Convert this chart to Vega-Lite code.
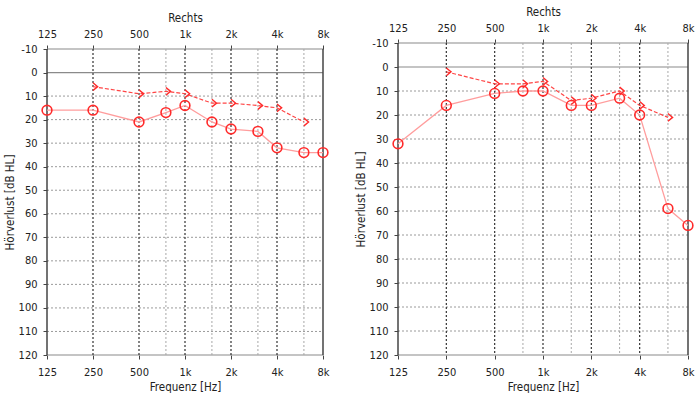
{
  "$schema": "https://vega.github.io/schema/vega-lite/v6.json",
  "background": "white",
  "padding": {"left": 4, "top": 6, "right": 0, "bottom": 0},
  "spacing": 23,
  "config": {
    "font": "DejaVu Sans Condensed, Liberation Sans",
    "view": {"stroke": null},
    "axis": {"labelFont": "DejaVu Sans Condensed, Liberation Sans", "titleFont": "DejaVu Sans Condensed, Liberation Sans", "labelFontSize": 11, "titleFontSize": 11.5, "titleFontWeight": "normal", "labelColor": "#222", "titleColor": "#222", "grid": false, "domain": false, "tickColor": "#444", "tickSize": 4, "labelOverlap": false, "labelSeparation": 0},
    "axisY": {"labelOverlap": false},
    "axisLeft": {"labelOverlap": false},
    "axisQuantitative": {"labelOverlap": false}
  },
  "datasets": {
    "levels": [{"db": -10}, {"db": 0}, {"db": 10}, {"db": 20}, {"db": 30}, {"db": 40}, {"db": 50}, {"db": 60}, {"db": 70}, {"db": 80}, {"db": 90}, {"db": 100}, {"db": 110}, {"db": 120}],
    "freqs": [{"f": 125}, {"f": 250}, {"f": 500}, {"f": 750}, {"f": 1000}, {"f": 1500}, {"f": 2000}, {"f": 3000}, {"f": 4000}, {"f": 6000}, {"f": 8000}],
    "hearing": [
      {"panel": "L", "test": "air", "f": 125, "db": 16},
      {"panel": "L", "test": "air", "f": 250, "db": 16},
      {"panel": "L", "test": "air", "f": 500, "db": 21},
      {"panel": "L", "test": "air", "f": 750, "db": 17},
      {"panel": "L", "test": "air", "f": 1000, "db": 14},
      {"panel": "L", "test": "air", "f": 1500, "db": 21},
      {"panel": "L", "test": "air", "f": 2000, "db": 24},
      {"panel": "L", "test": "air", "f": 3000, "db": 25},
      {"panel": "L", "test": "air", "f": 4000, "db": 32},
      {"panel": "L", "test": "air", "f": 6000, "db": 34},
      {"panel": "L", "test": "air", "f": 8000, "db": 34},
      {"panel": "L", "test": "bone", "f": 250, "db": 6},
      {"panel": "L", "test": "bone", "f": 500, "db": 9},
      {"panel": "L", "test": "bone", "f": 750, "db": 8},
      {"panel": "L", "test": "bone", "f": 1000, "db": 9},
      {"panel": "L", "test": "bone", "f": 1500, "db": 13},
      {"panel": "L", "test": "bone", "f": 2000, "db": 13},
      {"panel": "L", "test": "bone", "f": 3000, "db": 14},
      {"panel": "L", "test": "bone", "f": 4000, "db": 15},
      {"panel": "L", "test": "bone", "f": 6000, "db": 21},
      {"panel": "R", "test": "air", "f": 125, "db": 32},
      {"panel": "R", "test": "air", "f": 250, "db": 16},
      {"panel": "R", "test": "air", "f": 500, "db": 11},
      {"panel": "R", "test": "air", "f": 750, "db": 10},
      {"panel": "R", "test": "air", "f": 1000, "db": 10},
      {"panel": "R", "test": "air", "f": 1500, "db": 16},
      {"panel": "R", "test": "air", "f": 2000, "db": 16},
      {"panel": "R", "test": "air", "f": 3000, "db": 13},
      {"panel": "R", "test": "air", "f": 4000, "db": 20},
      {"panel": "R", "test": "air", "f": 6000, "db": 59},
      {"panel": "R", "test": "air", "f": 8000, "db": 66},
      {"panel": "R", "test": "bone", "f": 250, "db": 2},
      {"panel": "R", "test": "bone", "f": 500, "db": 7},
      {"panel": "R", "test": "bone", "f": 750, "db": 7},
      {"panel": "R", "test": "bone", "f": 1000, "db": 6},
      {"panel": "R", "test": "bone", "f": 1500, "db": 14},
      {"panel": "R", "test": "bone", "f": 2000, "db": 13},
      {"panel": "R", "test": "bone", "f": 3000, "db": 10},
      {"panel": "R", "test": "bone", "f": 4000, "db": 16},
      {"panel": "R", "test": "bone", "f": 6000, "db": 21}
    ]
  },
  "hconcat": [
    {
      "width": 276,
      "height": 312,
      "layer": [
        {"data": {"name": "levels"}, "transform": [{"filter": "datum.db > 0 && datum.db < 120"}], "mark": {"type": "rule", "color": "#9a9a9a", "strokeDash": [2, 2], "strokeWidth": 1},
          "encoding": {
            "x": {"datum": 125, "type": "quantitative", "scale": {"type": "log", "domain": [125, 8000], "nice": false},
              "axis": {"orient": "bottom", "values": [125, 250, 500, 1000, 2000, 4000, 8000], "labelExpr": "datum.value >= 1000 ? (datum.value/1000) + 'k' : datum.value + ''", "title": "Frequenz [Hz]", "titlePadding": 4, "labelPadding": 7, "labelFlush": false, "labelOverlap": false}},
            "x2": {"datum": 8000},
            "y": {"field": "db", "type": "quantitative", "scale": {"domain": [-10, 120], "range": [6, 312], "nice": false, "zero": false},
              "axis": {"values": [-10, 0, 10, 20, 30, 40, 50, 60, 70, 80, 90, 100, 110, 120], "labelExpr": "datum.value + ''", "title": "Hörverlust [dB HL]", "titlePadding": 3, "labelPadding": 6, "labelOverlap": false}}}},
        {"data": {"name": "levels"}, "transform": [{"filter": "datum.db <= 0 || datum.db == 120"}], "mark": {"type": "rule", "color": "#8a8a8a", "strokeWidth": 1.2},
          "encoding": {"x": {"datum": 125, "type": "quantitative", "axis": null}, "x2": {"datum": 8000},
            "y": {"field": "db", "type": "quantitative", "axis": {"values": [-10, 0, 10, 20, 30, 40, 50, 60, 70, 80, 90, 100, 110, 120], "labelExpr": "datum.value + ''", "title": "Hörverlust [dB HL]", "titlePadding": 3, "labelPadding": 6, "labelOverlap": false}}}},
        {"data": {"name": "freqs"}, "transform": [{"filter": "indexof([750,1500,3000,6000], datum.f) >= 0"}], "mark": {"type": "rule", "color": "#a8a8a8", "strokeDash": [2, 2], "strokeWidth": 1},
          "encoding": {"x": {"field": "f", "type": "quantitative",
              "axis": {"orient": "top", "offset": -6, "values": [125, 250, 500, 1000, 2000, 4000, 8000], "labelExpr": "datum.value >= 1000 ? (datum.value/1000) + 'k' : datum.value + ''", "title": "Rechts", "titlePadding": 5, "labelPadding": 6, "labelFlush": false, "labelOverlap": false}},
            "y": {"datum": -10, "type": "quantitative", "axis": {"values": [-10, 0, 10, 20, 30, 40, 50, 60, 70, 80, 90, 100, 110, 120], "labelExpr": "datum.value + ''", "title": "Hörverlust [dB HL]", "titlePadding": 3, "labelPadding": 6, "labelOverlap": false}}, "y2": {"datum": 120}}},
        {"data": {"name": "freqs"}, "transform": [{"filter": "indexof([250,500,1000,2000,4000], datum.f) >= 0"}], "mark": {"type": "rule", "color": "#333333", "strokeDash": [2, 2], "strokeWidth": 1.2},
          "encoding": {"x": {"field": "f", "type": "quantitative", "axis": null},
            "y": {"datum": -10, "type": "quantitative", "axis": {"values": [-10, 0, 10, 20, 30, 40, 50, 60, 70, 80, 90, 100, 110, 120], "labelExpr": "datum.value + ''", "title": "Hörverlust [dB HL]", "titlePadding": 3, "labelPadding": 6, "labelOverlap": false}}, "y2": {"datum": 120}}},
        {"data": {"name": "freqs"}, "transform": [{"filter": "datum.f == 125 || datum.f == 8000"}], "mark": {"type": "rule", "color": "#444444", "strokeWidth": 1.5},
          "encoding": {"x": {"field": "f", "type": "quantitative", "axis": null},
            "y": {"datum": -10, "type": "quantitative", "axis": {"values": [-10, 0, 10, 20, 30, 40, 50, 60, 70, 80, 90, 100, 110, 120], "labelExpr": "datum.value + ''", "title": "Hörverlust [dB HL]", "titlePadding": 3, "labelPadding": 6, "labelOverlap": false}}, "y2": {"datum": 120}}},
        {"data": {"name": "hearing"}, "transform": [{"filter": "datum.panel == 'L' && datum.test == 'air'"}], "mark": {"type": "line", "color": "#ff9d9d", "strokeWidth": 1.3},
          "encoding": {"x": {"field": "f", "type": "quantitative", "axis": null},
            "y": {"field": "db", "type": "quantitative", "axis": {"values": [-10, 0, 10, 20, 30, 40, 50, 60, 70, 80, 90, 100, 110, 120], "labelExpr": "datum.value + ''", "title": "Hörverlust [dB HL]", "titlePadding": 3, "labelPadding": 6, "labelOverlap": false}}}},
        {"data": {"name": "hearing"}, "transform": [{"filter": "datum.panel == 'L' && datum.test == 'bone'"}], "mark": {"type": "line", "color": "#ff4545", "strokeWidth": 1.2, "strokeDash": [4, 2]},
          "encoding": {"x": {"field": "f", "type": "quantitative", "axis": null},
            "y": {"field": "db", "type": "quantitative", "axis": {"values": [-10, 0, 10, 20, 30, 40, 50, 60, 70, 80, 90, 100, 110, 120], "labelExpr": "datum.value + ''", "title": "Hörverlust [dB HL]", "titlePadding": 3, "labelPadding": 6, "labelOverlap": false}}}},
        {"data": {"name": "hearing"}, "transform": [{"filter": "datum.panel == 'L' && datum.test == 'air'"}], "mark": {"type": "point", "shape": "circle", "filled": false, "color": "#ff2a2a", "size": 95, "strokeWidth": 1.6, "opacity": 1},
          "encoding": {"x": {"field": "f", "type": "quantitative", "axis": null},
            "y": {"field": "db", "type": "quantitative", "axis": {"values": [-10, 0, 10, 20, 30, 40, 50, 60, 70, 80, 90, 100, 110, 120], "labelExpr": "datum.value + ''", "title": "Hörverlust [dB HL]", "titlePadding": 3, "labelPadding": 6, "labelOverlap": false}}}},
        {"data": {"name": "hearing"}, "transform": [{"filter": "datum.panel == 'L' && datum.test == 'bone'"}], "mark": {"type": "point", "shape": "M0,-1L1.2,0L0,1", "filled": false, "color": "#ff2a2a", "size": 60, "strokeWidth": 1.4, "opacity": 1},
          "encoding": {"x": {"field": "f", "type": "quantitative", "axis": null},
            "y": {"field": "db", "type": "quantitative", "axis": {"values": [-10, 0, 10, 20, 30, 40, 50, 60, 70, 80, 90, 100, 110, 120], "labelExpr": "datum.value + ''", "title": "Hörverlust [dB HL]", "titlePadding": 3, "labelPadding": 6, "labelOverlap": false}}}}
      ],
      "resolve": {"axis": {"x": "independent"}}
    },
    {
      "width": 290,
      "height": 312,
      "layer": [
        {"data": {"name": "levels"}, "transform": [{"filter": "datum.db > 0 && datum.db < 120"}], "mark": {"type": "rule", "color": "#9a9a9a", "strokeDash": [2, 2], "strokeWidth": 1},
          "encoding": {
            "x": {"datum": 125, "type": "quantitative", "scale": {"type": "log", "domain": [125, 8000], "nice": false},
              "axis": {"orient": "bottom", "values": [125, 250, 500, 1000, 2000, 4000, 8000], "labelExpr": "datum.value >= 1000 ? (datum.value/1000) + 'k' : datum.value + ''", "title": "Frequenz [Hz]", "titlePadding": 4, "labelPadding": 7, "labelFlush": false, "labelOverlap": false}},
            "x2": {"datum": 8000},
            "y": {"field": "db", "type": "quantitative", "scale": {"domain": [-10, 120], "reverse": true, "nice": false, "zero": false},
              "axis": {"values": [-10, 0, 10, 20, 30, 40, 50, 60, 70, 80, 90, 100, 110, 120], "labelExpr": "datum.value + ''", "title": "Hörverlust [dB HL]", "titlePadding": 3, "labelPadding": 6, "labelOverlap": false}}}},
        {"data": {"name": "levels"}, "transform": [{"filter": "datum.db <= 0 || datum.db == 120"}], "mark": {"type": "rule", "color": "#8a8a8a", "strokeWidth": 1.2},
          "encoding": {"x": {"datum": 125, "type": "quantitative", "axis": null}, "x2": {"datum": 8000},
            "y": {"field": "db", "type": "quantitative", "axis": {"values": [-10, 0, 10, 20, 30, 40, 50, 60, 70, 80, 90, 100, 110, 120], "labelExpr": "datum.value + ''", "title": "Hörverlust [dB HL]", "titlePadding": 3, "labelPadding": 6, "labelOverlap": false}}}},
        {"data": {"name": "freqs"}, "transform": [{"filter": "indexof([750,1500,3000,6000], datum.f) >= 0"}], "mark": {"type": "rule", "color": "#a8a8a8", "strokeDash": [2, 2], "strokeWidth": 1},
          "encoding": {"x": {"field": "f", "type": "quantitative",
              "axis": {"orient": "top", "values": [125, 250, 500, 1000, 2000, 4000, 8000], "labelExpr": "datum.value >= 1000 ? (datum.value/1000) + 'k' : datum.value + ''", "title": "Rechts", "titlePadding": 5, "labelPadding": 6, "labelFlush": false, "labelOverlap": false}},
            "y": {"datum": -10, "type": "quantitative", "axis": {"values": [-10, 0, 10, 20, 30, 40, 50, 60, 70, 80, 90, 100, 110, 120], "labelExpr": "datum.value + ''", "title": "Hörverlust [dB HL]", "titlePadding": 3, "labelPadding": 6, "labelOverlap": false}}, "y2": {"datum": 120}}},
        {"data": {"name": "freqs"}, "transform": [{"filter": "indexof([250,500,1000,2000,4000], datum.f) >= 0"}], "mark": {"type": "rule", "color": "#333333", "strokeDash": [2, 2], "strokeWidth": 1.2},
          "encoding": {"x": {"field": "f", "type": "quantitative", "axis": null},
            "y": {"datum": -10, "type": "quantitative", "axis": {"values": [-10, 0, 10, 20, 30, 40, 50, 60, 70, 80, 90, 100, 110, 120], "labelExpr": "datum.value + ''", "title": "Hörverlust [dB HL]", "titlePadding": 3, "labelPadding": 6, "labelOverlap": false}}, "y2": {"datum": 120}}},
        {"data": {"name": "freqs"}, "transform": [{"filter": "datum.f == 125 || datum.f == 8000"}], "mark": {"type": "rule", "color": "#444444", "strokeWidth": 1.5},
          "encoding": {"x": {"field": "f", "type": "quantitative", "axis": null},
            "y": {"datum": -10, "type": "quantitative", "axis": {"values": [-10, 0, 10, 20, 30, 40, 50, 60, 70, 80, 90, 100, 110, 120], "labelExpr": "datum.value + ''", "title": "Hörverlust [dB HL]", "titlePadding": 3, "labelPadding": 6, "labelOverlap": false}}, "y2": {"datum": 120}}},
        {"data": {"name": "hearing"}, "transform": [{"filter": "datum.panel == 'R' && datum.test == 'air'"}], "mark": {"type": "line", "color": "#ff9d9d", "strokeWidth": 1.3},
          "encoding": {"x": {"field": "f", "type": "quantitative", "axis": null},
            "y": {"field": "db", "type": "quantitative", "axis": {"values": [-10, 0, 10, 20, 30, 40, 50, 60, 70, 80, 90, 100, 110, 120], "labelExpr": "datum.value + ''", "title": "Hörverlust [dB HL]", "titlePadding": 3, "labelPadding": 6, "labelOverlap": false}}}},
        {"data": {"name": "hearing"}, "transform": [{"filter": "datum.panel == 'R' && datum.test == 'bone'"}], "mark": {"type": "line", "color": "#ff4545", "strokeWidth": 1.2, "strokeDash": [4, 2]},
          "encoding": {"x": {"field": "f", "type": "quantitative", "axis": null},
            "y": {"field": "db", "type": "quantitative", "axis": {"values": [-10, 0, 10, 20, 30, 40, 50, 60, 70, 80, 90, 100, 110, 120], "labelExpr": "datum.value + ''", "title": "Hörverlust [dB HL]", "titlePadding": 3, "labelPadding": 6, "labelOverlap": false}}}},
        {"data": {"name": "hearing"}, "transform": [{"filter": "datum.panel == 'R' && datum.test == 'air'"}], "mark": {"type": "point", "shape": "circle", "filled": false, "color": "#ff2a2a", "size": 95, "strokeWidth": 1.6, "opacity": 1},
          "encoding": {"x": {"field": "f", "type": "quantitative", "axis": null},
            "y": {"field": "db", "type": "quantitative", "axis": {"values": [-10, 0, 10, 20, 30, 40, 50, 60, 70, 80, 90, 100, 110, 120], "labelExpr": "datum.value + ''", "title": "Hörverlust [dB HL]", "titlePadding": 3, "labelPadding": 6, "labelOverlap": false}}}},
        {"data": {"name": "hearing"}, "transform": [{"filter": "datum.panel == 'R' && datum.test == 'bone'"}], "mark": {"type": "point", "shape": "M0,-1L1.2,0L0,1", "filled": false, "color": "#ff2a2a", "size": 60, "strokeWidth": 1.4, "opacity": 1},
          "encoding": {"x": {"field": "f", "type": "quantitative", "axis": null},
            "y": {"field": "db", "type": "quantitative", "axis": {"values": [-10, 0, 10, 20, 30, 40, 50, 60, 70, 80, 90, 100, 110, 120], "labelExpr": "datum.value + ''", "title": "Hörverlust [dB HL]", "titlePadding": 3, "labelPadding": 6, "labelOverlap": false}}}}
      ],
      "resolve": {"axis": {"x": "independent"}}
    }
  ]
}
